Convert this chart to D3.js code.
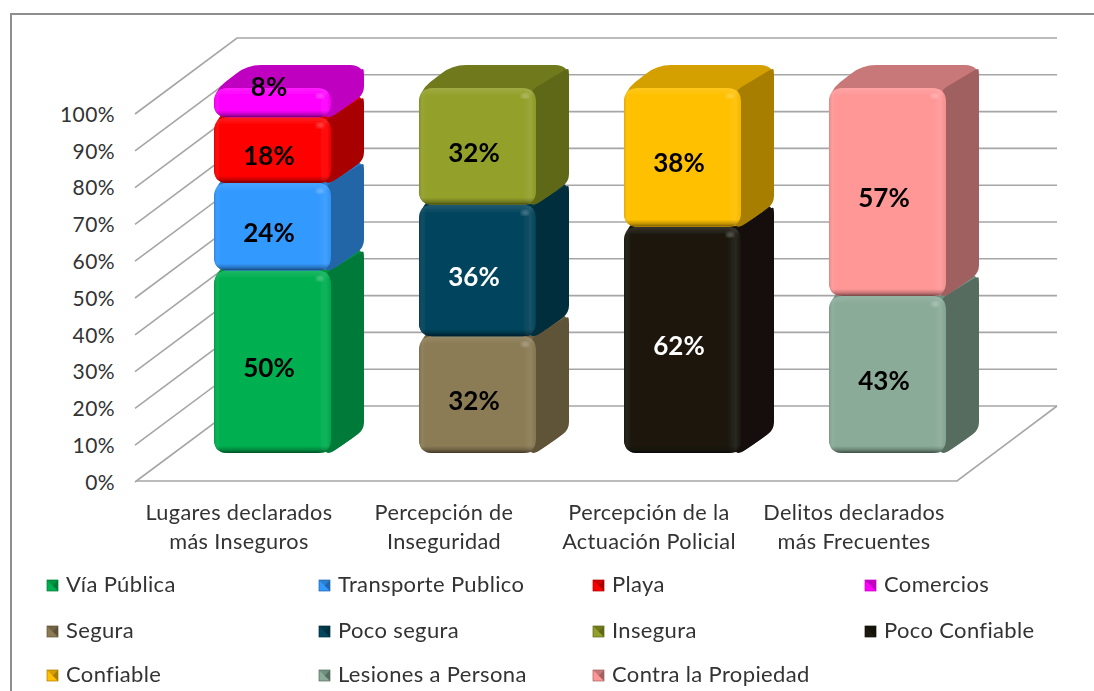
<!DOCTYPE html>
<html><head><meta charset="utf-8">
<script src="https://cdnjs.cloudflare.com/ajax/libs/d3/7.8.5/d3.min.js"></script>
<style>html,body{margin:0;padding:0;background:#fff;overflow:hidden}svg{display:block}text{font-family:Lato,"Open Sans",sans-serif}</style>
</head><body><svg id="c" width="1094" height="691"></svg>
<script>
const categories=[["Lugares declarados","más Inseguros"],["Percepción de","Inseguridad"],["Percepción de la","Actuación Policial"],["Delitos declarados","más Frecuentes"]];
const seriesNames=["Vía Pública","Transporte Publico","Playa","Comercios","Segura","Poco segura","Insegura","Poco Confiable","Confiable","Lesiones a Persona","Contra la Propiedad"];
const seriesValues=[[50,0,0,0],[24,0,0,0],[18,0,0,0],[8,0,0,0],[0,32,0,0],[0,36,0,0],[0,32,0,0],[0,0,62,0],[0,0,38,0],[0,0,0,43],[0,0,0,57]];
const frontColors=["#00AF50","#3399FF","#FF0000","#FF00FF","#8B7B55","#04455D","#93A02A","#1B1910","#FFC000","#8AAB98","#FF9797"];
const sideColors=["#007A38","#2166A8","#A80000","#C000C0","#5E5238","#022D3C","#5F6817","#12110A","#A87E00","#566C5F","#A06060"];
const topColors=["#00943F","#2A80D0","#D00000","#C000C0","#6F6344","#033646","#6F7A1C","#161409","#D4A000","#6E9080","#C87878"];
const labelColors=["#000","#000","#000","#000","#000","#fff","#000","#fff","#000","#000","#000"];
const tickValues=[0,10,20,30,40,50,60,70,80,90,100];

const svg=d3.select("#c");
const defs=svg.append("defs");
function lg(id,x2,y2,stops){const g=defs.append("linearGradient").attr("id",id).attr("x1",0).attr("y1",0).attr("x2",x2).attr("y2",y2);
 stops.forEach(s=>g.append("stop").attr("offset",s[0]).attr("stop-color",s[1]).attr("stop-opacity",s[2]));}
lg("gTop",0,1,[[0,"#fff",.12],[1,"#fff",0]]);
lg("gBot",0,1,[[0,"#000",0],[.55,"#000",.22],[1,"#000",.55]]);
lg("gLeft",1,0,[[0,"#000",.12],[.5,"#fff",.05],[1,"#fff",0]]);
lg("gRight",1,0,[[0,"#fff",0],[.6,"#fff",.07],[1,"#000",.04]]);
defs.append("filter").attr("id","soft").attr("x","-5%").attr("y","-5%").attr("width","110%").attr("height","110%")
 .append("feGaussianBlur").attr("stdDeviation",.5);
defs.append("filter").attr("id","spec").append("feGaussianBlur").attr("stdDeviation",1.6);

// chart frame
svg.append("path").attr("d",d3.line()([[11,691],[11,14],[1094,14]])).attr("fill","none").attr("stroke","#8E8E8E").attr("stroke-width",2);

const wallDx=100, wallDy=75;
const x=d3.scaleBand().domain(d3.range(categories.length)).range([137,957]).paddingInner(0).paddingOuter(0);
const y=d3.scaleLinear().domain([0,100]).range([481,113]);
const yBar=d3.scaleLinear().domain([0,100]).range([453,88]);
const barW=117, barDx=33, barDy=23, barShift=(x.bandwidth()-barW)/2+33;

// walls and gridlines
const grid=svg.append("g").attr("fill","none").attr("stroke","#A6A6A6").attr("stroke-width",1.6).attr("filter","url(#soft)");
tickValues.forEach(t=>{
  grid.append("path").attr("d",d3.line()([[x.range()[0]-2,y(t)+1],[x.range()[0]+wallDx,y(t)-wallDy],[x.range()[1]+wallDx,y(t)-wallDy]]));
});
grid.append("path").attr("d",d3.line()([[x.range()[0],y(0)],[x.range()[1],y(0)],[x.range()[1]+wallDx,y(0)-wallDy]]));

// axis labels
const axis=svg.append("g").attr("transform","translate(115,1.5)").call(d3.axisLeft(y).tickValues(tickValues).tickFormat(d=>d+"%").tickSize(0).tickPadding(0));
axis.select(".domain").remove();
axis.selectAll("text").attr("font-size",21).attr("fill","#333").style("font-family","Lato").attr("letter-spacing",".4").attr("dy",".32em");

// rounded polygon
function roundPoly(pts,r){
 const n=pts.length;let d="";
 pts.forEach((p,i)=>{
  const a=pts[(i-1+n)%n],b=pts[(i+1)%n];
  const u=(q)=>{const dx=q[0]-p[0],dy=q[1]-p[1],l=Math.hypot(dx,dy),k=Math.min(r,l/2)/l;return [p[0]+dx*k,p[1]+dy*k];};
  const s=u(a),e=u(b);
  d+=(i?"L":"M")+s[0]+","+s[1]+"Q"+p[0]+","+p[1]+" "+e[0]+","+e[1];
 });
 return d+"Z";
}

const stack=d3.stack().keys(d3.range(seriesNames.length)).value((d,k)=>seriesValues[k][d]);
const layers=stack(d3.range(categories.length));
const blocks=[];
layers.forEach((l,si)=>l.forEach((seg,ci)=>{ if(seg[1]>seg[0]) blocks.push({si,ci,v0:seg[0],v1:seg[1]}); }));

const marks=svg.append("g").attr("filter","url(#soft)");
blocks.forEach((b,i)=>{
 const X=x(b.ci)+barShift, R=X+barW, T=yBar(b.v1), B=yBar(b.v0);
 const g=marks.append("g");
 // silhouette / top face
 g.append("path").attr("d",roundPoly([[X,T+3],[X+barDx,T-barDy],[R+barDx,T-barDy],[R+barDx,B-barDy],[R,B],[X,B]],14)).attr("fill",topColors[b.si]);
 // side face
 g.append("path").attr("d",roundPoly([[R-6,T+3],[R+barDx-1,T-barDy+3],[R+barDx,T-barDy+6],[R+barDx,B-barDy],[R,B],[R-6,B]],8)).attr("fill",sideColors[b.si]);
 // front face
 const id="cl"+i;
 const front=roundPoly([[X,T],[R,T],[R,B],[X,B]],14);
 defs.append("clipPath").attr("id",id).append("path").attr("d",front);
 g.append("path").attr("d",front).attr("fill",frontColors[b.si]);
 const f=g.append("g").attr("clip-path",`url(#${id})`);
 const h=B-T;
 f.append("rect").attr("x",X).attr("y",T).attr("width",barW).attr("height",8).attr("fill","url(#gTop)");
 f.append("rect").attr("x",X).attr("y",T).attr("width",7).attr("height",h).attr("fill","url(#gLeft)");
 f.append("rect").attr("x",R-13).attr("y",T).attr("width",13).attr("height",h).attr("fill","url(#gRight)");
 f.append("rect").attr("x",X).attr("y",B-7).attr("width",barW).attr("height",7).attr("fill","url(#gBot)");
 f.append("ellipse").attr("cx",R-11).attr("cy",T+8).attr("rx",4).attr("ry",2.5).attr("fill","#fff").attr("opacity",.25).attr("filter","url(#spec)");
});

// value labels
const labels=svg.append("g").attr("text-anchor","middle").attr("font-weight",700).attr("font-size",26);
blocks.forEach(b=>{
 const cx=x(b.ci)+barShift+barW/2-3.5;
 const mid=(yBar(b.v0)+yBar(b.v1))/2;
 // thin blocks carry their label on the upper edge
 const cy=(b.v1-b.v0)<10 ? yBar(b.v1)-1 : mid+6;
 labels.append("text").attr("x",cx).attr("y",cy).attr("dy",".35em").attr("fill",labelColors[b.si]).text(b.v1-b.v0+"%");
});

// category labels
const cat=svg.append("g").attr("text-anchor","middle").attr("font-size",21.7).attr("fill","#333").attr("letter-spacing",".35");
categories.forEach((c,i)=>c.forEach((t,j)=>{
 cat.append("text").attr("x",x(i)+x.bandwidth()/2-.5).attr("y",519.5+j*29).text(t);
}));

// legend
const colX=d3.scaleOrdinal().domain([0,1,2,3]).range([43,315,589,861]);
const rowY=d3.scaleOrdinal().domain([0,1,2]).range([585,631,675]);
const leg=svg.append("g");
seriesNames.forEach((n,i)=>{
 const c=i%4,r=Math.floor(i/4),lx=colX(c),ly=rowY(r),s=11,x0=lx+4,y0=ly-5;
 const g=leg.append("g");
 g.append("rect").attr("x",x0).attr("y",y0).attr("width",s).attr("height",s).attr("fill",frontColors[i]);
 g.append("path").attr("d",d3.line()([[x0,y0],[x0+s,y0],[x0+s/2,y0+s/2]])+"Z").attr("fill",topColors[i]);
 g.append("path").attr("d",d3.line()([[x0+s,y0],[x0+s,y0+s],[x0+s/2,y0+s/2]])+"Z").attr("fill",sideColors[i]);
 g.append("rect").attr("x",x0).attr("y",y0).attr("width",s).attr("height",s).attr("fill","none").attr("stroke",sideColors[i]).attr("stroke-width",.7);
 leg.append("text").attr("x",lx+23).attr("y",ly+7).attr("font-size",22).attr("letter-spacing",".35").attr("fill","#333").text(n);
});
</script></body></html>
